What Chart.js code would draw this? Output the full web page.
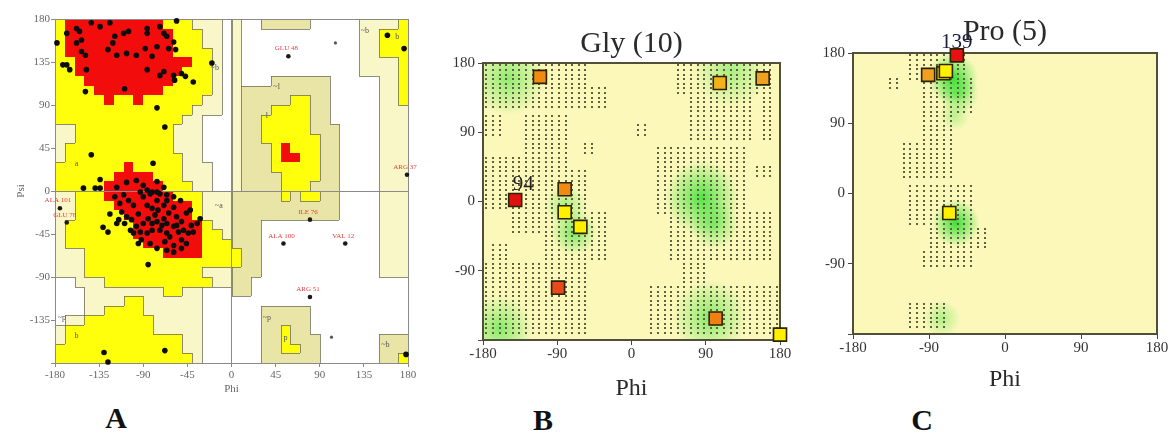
<!DOCTYPE html>
<html>
<head>
<meta charset="utf-8">
<script src="https://cdn.jsdelivr.net/npm/chart.js@4.4.1/dist/chart.umd.min.js"></script>
<style>
  body { margin: 0; width: 1173px; height: 434px; background: #fff; position: relative; overflow: hidden; }
  canvas { position: absolute; top: 0; }
  #ramaA { left: 0; }
  #ramaB { left: 430px; }
  #ramaC { left: 810px; }
  .tag { position: absolute; font: bold 30px "Liberation Serif", serif; color: #111; transform: translate(-50%, -50%); }
</style>
</head>
<body>
<canvas id="ramaA" width="420" height="400"></canvas>
<canvas id="ramaB" width="380" height="400"></canvas>
<canvas id="ramaC" width="363" height="400"></canvas>
<div class="tag" style="left:116px;top:418px">A</div>
<div class="tag" style="left:543px;top:420px">B</div>
<div class="tag" style="left:922px;top:420px">C</div>
<script>
// ---- PANEL A: PROCHECK plot, 10 degree cells ----
// one string per psi row (180 -> -180), one char per phi column (-180 -> 180)
// R core, Y allowed, K / C generous, . disallowed
const regionRows = [
  'YRRRRRRRRRRYYYCCC.C..KKKKK.....CCCCY',
  'YRRRRRRRRRRRYYYCC.C............CCYYY',
  'YRRRRRRRRRRRYYYCC.C............CCYYY',
  'YRRRRRRRRRRRYYYYC.C............CCYYY',
  'YYRRRRRRRRRRRRYYC.C............CCCCY',
  'YYRRRRRRRRRRRYYYC.C............CCCCY',
  'YYYRRRRRRRRRYYYYC.C...KKKKKK.....CCY',
  'YYYYRRRRRRRYYYYYC.CKKKKKKKKK.....CCY',
  'YYYYYRYYRYYYYYYCC.CKKKKKYYKK.....CCY',
  'YYYYYYYYYYYYYYCCC.CKKKYYYYKK.....CCC',
  'YYYYYYYYYYYYYCC...CKKYYYYYKK.....CCC',
  'CCYYYYYYYYYYCCC...CKKYYYYYKKK....CCC',
  'CCYYYYYYYYYYCCC...CKKYYYYYYKK....CCC',
  'CYYYYYYYYYYYCCC...CKKKYRYYYKK....CCC',
  'CYYYYYYYYYYYYCC...CKKKYRRYYKK....CCC',
  'YYYYYYYRYYYYYCCC..CKKKYYYYYKK....CCC',
  'YYYYYYRRRRYYYCCC..CKKKKYYYYKK....CCC',
  'YYYYYRRRRRRYYYCC..CKKKKYYYKKK....CCC',
  'CCYYYRRRRRRRYYYCCCKKKKKYKYYKK....CCC',
  'CCYYYYRRRRRRRRYCCCKKKKKKKKKKK....CCC',
  'CCYYYYYRRRRRRRYCCCKKKKKKKKKKK....CCC',
  'CYYYYYYYRRRRRRRYCCKKK............CCC',
  'CYYYYYYYRRRRRRRYYCKKK............CCC',
  'CYYYYYYYYRRRRRRYYYKKK............CCC',
  'CCCYYYYYYYYRRRRYYYYKK............CCC',
  'CCCYYYYYYYYYYYYYYYYKK............CCC',
  'CCCYYYYYYYYYYYYCCCKKK............CCC',
  '..CCCYYYYYYYYYYYCCKK................',
  '...CCCCCCCCYYCC...KK................',
  '...CCCCYYCCCCCC.....................',
  '...CCYYYYCCCCCC......KKKKK..........',
  '.CCYYYYYYYCCCCC......KKKKK..........',
  'CYYYYYYYYYCCCCC......KKYKK..........',
  'CYYYYYYYYYYYYCC......KKYKKK......KKK',
  'YYYYYYYYYYYYYCC......KKYYKK......KKK',
  'YYYYYYYYYYYYYYC......KKKKKK......KKY'
];
const regionColours = { R: '#f20c0c', Y: '#ffff0c', K: '#e9e5a6', C: '#f9f6c8' };

const betaPhi = [-178, -172, -168, -165, -149, -168, -158, -155, -158, -153, -153, -149, -148, -143, -134, -124, -121, -119, -110, -105,
  -126, -117, -107, -97, -86, -86, -88, -81, -73, -69, -66, -64, -59, -76, -86, -73, -69, -59, -58, -51,
  -47, -109, -39, -20, -56, -57, -76, -68, -143, -80, -134, -134, -139, -151];
const betaPsi = [155, 132, 132, 127, 104, 165, 170, 167, 155, 158, 146, 142, 127, 176, 172, 176, 155, 162, 165, 167,
  148, 142, 144, 142, 170, 165, 149, 141, 172, 165, 162, 149, 156, 151, 127, 121, 125, 121, 116, 123,
  120, 107, 114, 134, 178, 148, 87, 67, 38, 29, 12, 3, 3, 3];
const alphaPhi = [-110, -105, -100, -90, -86, -81, -76, -75, -69, -64, -59, -56, -51, -46, -41, -39, -44, -49, -54, -59,
  -66, -69, -76, -81, -86, -93, -97, -102, -107, -112, -115, -109, -100, -92, -83, -76, -66, -59, -51, -46,
  -66, -73, -63, -56, -78, -85, -95, -73, -81, -66, -59, -52, -42, -35, -32, -114, -119, -81, -71, -68,
  -59, -51, -90, -95, -103, -107, -97, -90, -86, -83, -76, -69, -66, -93, -117, -76];
const alphaPsi = [-4, -10, -15, -6, -15, -18, -10, -20, -15, -23, -17, -27, -32, -23, -36, -43, -44, -41, -43, -37,
  -34, -29, -32, -41, -44, -43, -37, -30, -27, -22, -30, -34, -44, -51, -55, -60, -62, -57, -51, -55,
  -44, -41, -48, -36, -25, -29, -24, -3, -1, -10, -6, -10, -20, -34, -29, -13, -6, -34, -36, -53,
  -64, -60, -34, -55, -41, 9, 11, 6, 1, -3, -1, 4, -4, -1, 4, 10];
const otherPhi = [-124, -131, -126, -117, -85, -130, -126, -68, 178, 159, 176];
const otherPsi = [-24, -38, -43, -34, -77, -169, -179, -167, -171, 163, 149];
const faintPhi = [106, 102];
const faintPsi = [155, -153];

const outlierNames = ['GLU 48', 'ARG 37', 'ALA 101', 'GLU 78', 'ILE 76', 'ALA 100', 'VAL 12', 'ARG 51'];
const outlierPhi = [58, 179, -175, -168, 80, 53, 116, 80];
const outlierPsi = [141, 17, -18, -33, -30, -55, -55, -111];

const areaNames = ['~b', '~l', 'l', '~b', 'b', 'a', '~p', 'b', '~a', '~p', 'p', '~b'];
const areaPhi = [-17, 46, 36, 136, 169, -158, -173, -158, -13, 36, 55, 157];
const areaPsi = [130, 110, 80, 168, 162, 29, -132, -151, -15, -132, -153, -160];

// ---- PANEL B: Gly ----
const glyPhi = [-111, 107, 159, -141, -81, -81, -62, -89, 102, 180];
const glyPsi = [162, 154, 160, 2, 16, -14, -33, -112, -152, -173];
const glyColour = ['#f08a10', '#f3b21a', '#f0a020', '#e01010', '#f08a10', '#fff000', '#fff000', '#e8481a', '#f08010', '#fff000'];
const glyNumbered = 3;
const glyNumber = '94';
// [phi from, phi to, psi from, psi to] areas marked with dots
const glyDotBoxes = [
  [-176, -50, 150, 177], [-176, -26, 120, 150], [-176, -158, 85, 112], [-132, -74, 60, 112],
  [-60, -42, 60, 80], [2, 22, 84, 100], [-176, -74, 40, 60], [-176, -50, -10, 40],
  [-150, -26, -40, -10], [-110, -26, -76, -40], [-168, -148, -80, -54], [-176, -50, -176, -80],
  [30, 136, -15, 70], [150, 172, 30, 50], [43, 168, -80, -15], [60, 92, -110, -80],
  [18, 176, -176, -110], [53, 172, 136, 177], [67, 144, 80, 136], [156, 172, 80, 136]
];
// [phi, psi, radius, strength] favoured-density glow
const glyGlow = [
  [85, 5, 45, 0.8], [100, -30, 30, 0.55], [-70, -40, 28, 0.6], [-150, 160, 45, 0.5],
  [120, 170, 45, 0.4], [-160, -165, 40, 0.55], [95, -150, 45, 0.55], [-80, -5, 25, 0.4]
];

// ---- PANEL C: Pro ----
const proPhi = [-73, -91, -70, -57, -66];
const proPsi = [154, 152, 157, 177, -25];
const proColour = ['#f5d800', '#f0a020', '#fff000', '#e81010', '#fff000'];
const proNumbered = 3;
const proNumber = '139';
const proDotBoxes = [
  [-118, -41, 145, 177], [-142, -124, 130, 150], [-101, -34, 100, 150], [-103, -57, 64, 100],
  [-124, -61, 21, 64], [-117, -34, -43, 13], [-93, -18, -73, -43], [-103, -34, -94, -73],
  [-117, -65, -175, -137]
];
const proGlow = [[-62, 148, 30, 0.9], [-55, 128, 24, 0.6], [-58, -38, 28, 0.9], [-75, -160, 22, 0.35], [-60, 100, 18, 0.3]];

const serif = 'Liberation Serif';
const pts = (xs, ys) => xs.map((x, i) => ({ x: x, y: ys[i] }));

// region cells + step lines between classes
const procheckRegions = {
  id: 'procheckRegions',
  beforeDraw(chart, args, opts) {
    const { ctx, chartArea: a, scales: { x, y } } = chart;
    const px = v => Math.round(x.getPixelForValue(v));
    const py = v => Math.round(y.getPixelForValue(v));
    const rows = opts.rows;
    ctx.save();
    ctx.fillStyle = '#fff';
    ctx.fillRect(a.left, a.top, a.width, a.height);
    rows.forEach((row, r) => {
      for (let c = 0; c < row.length; c++) {
        const col = opts.colours[row[c]];
        if (!col) continue;
        const l = px(-180 + c * 10), t = py(180 - r * 10);
        ctx.fillStyle = col;
        ctx.fillRect(l, t, px(-170 + c * 10) - l, py(170 - r * 10) - t);
      }
    });
    const edge = (p, q) => p !== q && p !== 'R' && q !== 'R';
    ctx.strokeStyle = opts.edgeColour;
    ctx.lineWidth = 1;
    ctx.beginPath();
    rows.forEach((row, r) => {
      for (let c = 0; c < row.length; c++) {
        const k = row[c];
        if (c + 1 < row.length && edge(k, row[c + 1])) {
          const xx = px(-170 + c * 10) + 0.5;
          ctx.moveTo(xx, py(180 - r * 10));
          ctx.lineTo(xx, py(170 - r * 10));
        }
        if (r + 1 < rows.length && edge(k, rows[r + 1][c])) {
          const yy = py(170 - r * 10) + 0.5;
          ctx.moveTo(px(-180 + c * 10), yy);
          ctx.lineTo(px(-170 + c * 10), yy);
        }
      }
    });
    ctx.stroke();
    ctx.restore();
  },
  beforeDatasetsDraw(chart, args, opts) {
    const { ctx, chartArea: a } = chart;
    ctx.save();
    ctx.strokeStyle = opts.frame;
    ctx.lineWidth = 1;
    ctx.strokeRect(a.left + 0.5, a.top + 0.5, a.width, a.height);
    ctx.restore();
  }
};

// pale background, green glow and dotted allowed areas
const ramaBackdrop = {
  id: 'ramaBackdrop',
  beforeDraw(chart, args, opts) {
    const { ctx, chartArea: a, scales: { x, y } } = chart;
    ctx.save();
    ctx.beginPath();
    ctx.rect(a.left, a.top, a.width, a.height);
    ctx.clip();
    ctx.fillStyle = opts.fill;
    ctx.fillRect(a.left, a.top, a.width, a.height);
    for (const [phi, psi, rad, k] of opts.glow) {
      const cx = x.getPixelForValue(phi), cy = y.getPixelForValue(psi);
      const rr = Math.abs(x.getPixelForValue(phi + rad) - cx);
      const g = ctx.createRadialGradient(cx, cy, 0, cx, cy, rr);
      g.addColorStop(0, 'rgba(40,222,40,' + k + ')');
      g.addColorStop(1, 'rgba(40,222,40,0)');
      ctx.fillStyle = g;
      ctx.fillRect(cx - rr, cy - rr, rr * 2, rr * 2);
    }
    ctx.fillStyle = opts.dotColour;
    for (const [p0, p1, s0, s1] of opts.dots) {
      for (let p = -176; p <= 180; p += 8) {
        if (p < p0 || p > p1) continue;
        for (let s = 177; s >= -180; s -= 6) {
          if (s < s0 || s > s1) continue;
          ctx.fillRect(Math.round(x.getPixelForValue(p)) - 1, Math.round(y.getPixelForValue(s)) - 1, 2, 2);
        }
      }
    }
    ctx.restore();
  },
  beforeDatasetsDraw(chart, args, opts) {
    const { ctx, chartArea: a } = chart;
    ctx.save();
    ctx.strokeStyle = opts.frame;
    ctx.lineWidth = 2;
    ctx.strokeRect(a.left, a.top, a.width, a.height);
    ctx.restore();
  }
};

// text next to points
const pointNotes = {
  id: 'pointNotes',
  afterDatasetsDraw(chart, args, opts) {
    const { ctx, scales: { x, y } } = chart;
    ctx.save();
    ctx.textAlign = 'center';
    for (const g of opts.groups) {
      ctx.font = g.font;
      ctx.fillStyle = g.color;
      g.names.forEach((t, i) => {
        ctx.fillText(t, x.getPixelForValue(g.phi[i]) + g.dx, y.getPixelForValue(g.psi[i]) + g.dy);
      });
    }
    ctx.restore();
  }
};

// ---- A ----
new Chart(document.getElementById('ramaA'), {
  type: 'scatter',
  data: {
    datasets: [
      { data: pts(faintPhi, faintPsi), pointRadius: 1.6, backgroundColor: '#555', borderWidth: 0 },
      { data: pts(outlierPhi, outlierPsi), pointRadius: 2.3, backgroundColor: '#1a1a1a', borderWidth: 0, clip: false },
      { data: pts(betaPhi.concat(alphaPhi, otherPhi), betaPsi.concat(alphaPsi, otherPsi)), pointRadius: 2.8, backgroundColor: '#0d0d0d', borderWidth: 0, clip: false }
    ]
  },
  options: {
    responsive: false,
    animation: false,
    events: [],
    layout: { padding: { top: 19, right: 12, left: 0, bottom: 0 } },
    plugins: {
      legend: { display: false },
      tooltip: { enabled: false },
      procheckRegions: { rows: regionRows, colours: regionColours, edgeColour: 'rgba(105,105,85,0.75)', frame: '#8a8a8a' },
      pointNotes: {
        groups: [
          { names: outlierNames, phi: outlierPhi, psi: outlierPsi, dx: -2, dy: -6, font: '7px ' + serif, color: '#e5403c' },
          { names: areaNames, phi: areaPhi, psi: areaPsi, dx: 0, dy: 3, font: '8px ' + serif, color: '#555' }
        ]
      }
    },
    scales: {
      x: {
        type: 'linear', min: -180, max: 180,
        ticks: { stepSize: 45, autoSkip: false, maxRotation: 0, padding: 2, color: '#666', font: { family: serif, size: 11 } },
        grid: { color: c => c.tick && c.tick.value === 0 ? '#8a8a8a' : 'rgba(0,0,0,0)', tickColor: '#888', tickLength: 4 },
        border: { display: false },
        title: { display: true, text: 'Phi', color: '#666', font: { family: serif, size: 11 }, padding: { top: 0, bottom: 4 } },
        afterFit: s => { s.height = 37; }
      },
      y: {
        type: 'linear', min: -180, max: 180,
        ticks: { stepSize: 45, autoSkip: false, padding: 1, color: '#666', font: { family: serif, size: 11 }, callback: v => v === -180 ? '' : v },
        grid: { color: c => c.tick && c.tick.value === 0 ? '#8a8a8a' : 'rgba(0,0,0,0)', tickColor: '#888', tickLength: 4 },
        border: { display: false },
        title: { display: true, text: 'Psi', color: '#666', font: { family: serif, size: 11 }, padding: { top: 15, bottom: 0 } },
        afterFit: s => { s.width = 55; }
      }
    }
  },
  plugins: [procheckRegions, pointNotes]
});

// ---- B and C share the same look ----
function ramaOptions(title, titlePad, dots, glow, notes, yWidth, xHeight, phiPad, right) {
  const tickFont = { family: serif, size: 15 };
  return {
    responsive: false,
    animation: false,
    events: [],
    layout: { padding: { top: 0, right: right, left: 0, bottom: 0 } },
    plugins: {
      legend: { display: false },
      tooltip: { enabled: false },
      title: { display: true, text: title, fullSize: false, color: '#2a2a2a', font: { family: serif, size: 30, weight: 'normal' }, padding: titlePad },
      ramaBackdrop: { fill: '#fbf8ba', dotColour: '#5d6240', frame: '#4f4f3a', dots: dots, glow: glow },
      pointNotes: { groups: [notes] }
    },
    scales: {
      x: {
        type: 'linear', min: -180, max: 180,
        ticks: { stepSize: 90, autoSkip: false, maxRotation: 0, padding: 0, color: '#333', font: tickFont },
        grid: { drawOnChartArea: false, tickColor: '#444', tickLength: 5 },
        border: { display: false },
        title: { display: true, text: 'Phi', color: '#2a2a2a', font: { family: serif, size: 24 }, padding: { top: 0, bottom: phiPad } },
        afterFit: s => { s.height = xHeight; }
      },
      y: {
        type: 'linear', min: -180, max: 180,
        ticks: { stepSize: 90, autoSkip: false, padding: 3, color: '#333', font: tickFont, callback: v => v === -180 ? '' : v },
        grid: { drawOnChartArea: false, tickColor: '#444', tickLength: 5 },
        border: { display: false },
        afterFit: s => { s.width = yWidth; }
      }
    }
  };
}

new Chart(document.getElementById('ramaB'), {
  type: 'scatter',
  data: {
    datasets: [{
      data: pts(glyPhi, glyPsi), pointStyle: 'rect', pointRadius: 9.2,
      backgroundColor: glyColour, borderColor: '#2b2200', borderWidth: 1.6, clip: false
    }]
  },
  options: ramaOptions('Gly (10)', { top: 26, bottom: 1 }, glyDotBoxes, glyGlow,
    { names: [glyNumber], phi: [glyPhi[glyNumbered]], psi: [glyPsi[glyNumbered]], dx: 8, dy: -10, font: '21px ' + serif, color: '#222' },
    53, 60, -3, 30),
  plugins: [ramaBackdrop, pointNotes]
});

new Chart(document.getElementById('ramaC'), {
  type: 'scatter',
  data: {
    datasets: [{
      data: pts(proPhi, proPsi), pointStyle: 'rect', pointRadius: 9.2,
      backgroundColor: proColour, borderColor: '#2b2200', borderWidth: 1.6, clip: false
    }]
  },
  options: ramaOptions('Pro (5)', { top: 14, bottom: 3 }, proDotBoxes, proGlow,
    { names: [proNumber], phi: [proPhi[proNumbered]], psi: [proPsi[proNumbered]], dx: 0, dy: -7, font: '21px ' + serif, color: '#1c1c3a' },
    43, 66, 6, 16),
  plugins: [ramaBackdrop, pointNotes]
});
</script>
</body>
</html>
